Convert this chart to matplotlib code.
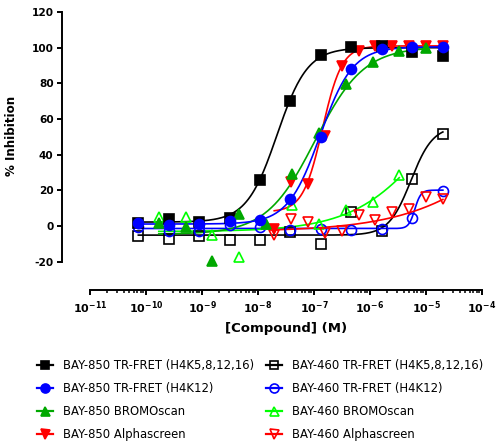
import numpy as np
import matplotlib
matplotlib.use("Agg")
import matplotlib.pyplot as plt
from matplotlib.lines import Line2D

plt.rcParams["font.family"] = ["DejaVu Sans"]
plt.rcParams["mathtext.fontset"] = "dejavusans"

# ---- data (% inhibition vs molar concentration) ----
conc_fret = [7.3e-11, 2.54e-10, 8.9e-10, 3.1e-9, 1.09e-8, 3.8e-8, 1.33e-7, 4.66e-7, 1.63e-6, 5.7e-6, 2.0e-5]
bay850_fret = [2.0, 4.3, 2.4, 4.5, 25.7, 70.4, 95.9, 100.6, 101.0, 97.4, 95.5]
bay460_fret = [-5.6, -6.9, -5.6, -7.8, -7.8, -3.2, -9.7, 7.7, -2.8, 26.6, 51.4]
bay850_k12 = [1.8, 0.6, 1.1, 2.8, 3.7, 15.5, 50.1, 88.1, 99.3, 100.6, 100.6]
bay460_k12 = [-0.4, -2.6, -2.6, 0.5, -0.4, -2.2, -1.3, -2.2, -1.7, 4.6, 19.9]

conc_bromo = [1.69e-10, 5.08e-10, 1.52e-9, 4.57e-9, 1.37e-8, 4.12e-8, 1.23e-7, 3.7e-7, 1.11e-6, 3.33e-6, 1.0e-5]
bay850_bromo = [1.8, -0.4, -19.5, 7.1, 1.5, 29.0, 52.0, 79.5, 92.2, 98.0, 100.0]
bay460_bromo = [5.2, 5.2, -5.0, -17.1, 1.5, 11.7, 1.5, 8.9, 13.6, 28.5]

conc_alpha = [1.95e-8, 3.91e-8, 7.81e-8, 1.56e-7, 3.13e-7, 6.25e-7, 1.25e-6, 2.5e-6, 5.0e-6, 1.0e-5, 2.0e-5]
bay850_alpha = [-1.3, 24.5, 23.8, 50.8, 90.0, 98.3, 101.0, 101.0, 101.0, 101.0, 101.0]
bay460_alpha = [-5.0, 4.3, 2.4, -3.7, -2.6, 6.1, 3.4, 8.0, 9.9, 16.4, 15.1]

# 4PL fit parameters estimated from the drawn curves: bottom, top, logEC50, hill
fit_850_fret = [2.3, 100.0, -7.66, 1.6]
fit_460_fret = [-5.0, 56.0, -5.27, 2.2]
fit_850_k12 = [1.2, 100.5, -6.89, 1.5]
fit_460_k12 = [-1.3, 20.2, -5.2, 8.0]
fit_850_bromo = [-4.5, 100.5, -6.98, 1.0]
fit_460_bromo = [-3.0, 100.0, -4.86, 0.62]
fit_850_alpha = [8.0, 101.0, -6.85, 2.5]
fit_460_alpha = [-3.0, 100.0, -3.2, 0.45]

labels = ["BAY-850 TR-FRET (H4K5,8,12,16)", "BAY-850 TR-FRET (H4K12)",
          "BAY-850 BROMOscan", "BAY-850 Alphascreen",
          "BAY-460 TR-FRET (H4K5,8,12,16)", "BAY-460 TR-FRET (H4K12)",
          "BAY-460 BROMOscan", "BAY-460 Alphascreen"]
yticks = [-20, 0, 20, 40, 60, 80, 100, 120]
xdecades = [-11, -10, -9, -8, -7, -6, -5, -4]

BLACK, BLUE, DGREEN, LGREEN, RED = "#000000", "#0000ff", "#00a800", "#00ff00", "#ff0000"


def fourpl(x, p):
    b, t, c, h = p
    return b + (t - b) / (1 + 10 ** (h * (c - np.log10(x))))


fig = plt.figure(figsize=(4.96, 4.42), dpi=100)
ax = fig.add_axes([90 / 496, 152 / 442, 392 / 496, 278 / 442])

# (conc, values, fit, colour, marker, filled, legend slot)
series = [
    (conc_fret, bay460_fret, fit_460_fret, BLACK, "s", False, 4),
    (conc_fret, bay460_k12, fit_460_k12, BLUE, "o", False, 5),
    (conc_bromo[:len(bay460_bromo)], bay460_bromo, fit_460_bromo, LGREEN, "^", False, 6),
    (conc_alpha, bay460_alpha, fit_460_alpha, RED, "v", False, 7),
    (conc_alpha, bay850_alpha, fit_850_alpha, RED, "v", True, 3),
    (conc_fret, bay850_fret, fit_850_fret, BLACK, "s", True, 0),
    (conc_bromo, bay850_bromo, fit_850_bromo, DGREEN, "^", True, 2),
    (conc_fret, bay850_k12, fit_850_k12, BLUE, "o", True, 1),
]
msize = {"s": 6.6, "o": 7.2, "^": 7.2, "v": 7.2}
handles = [None] * 8
for conc, vals, fit, col, mk, filled, li in series:
    xs = np.logspace(np.log10(min(conc)), np.log10(max(conc)), 300)
    ax.plot(xs, fourpl(xs, fit), color=col, lw=1.2, zorder=2)
    fc = col if filled else "none"
    ax.plot(conc, vals, ls="none", marker=mk, ms=msize[mk], mfc=fc, mec=col,
            mew=1.2, zorder=3)
    handles[li] = Line2D([], [], color=col, lw=1.6, marker=mk, ms=msize[mk] * 0.9,
                         mfc=fc, mec=col, mew=1.2)

ax.set_xscale("log")
ax.set_xlim(1e-11, 1e-4)
ax.set_ylim(-35.75, 120)
for s in ["top", "right"]:
    ax.spines[s].set_visible(False)
ax.spines["left"].set_position(("outward", 28 * 0.72))
ax.spines["left"].set_bounds(-20, 120)
for s in ["left", "bottom"]:
    ax.spines[s].set_linewidth(1.4)

ax.set_yticks(yticks)
ax.set_yticklabels([str(v) for v in yticks], fontsize=7.6, fontweight="bold")
ax.tick_params(axis="y", length=3.6, width=1.4, pad=2.5)

ax.set_xticks([10.0 ** d for d in xdecades])
ax.set_xticklabels([r"$\mathbf{10^{%d}}$" % d for d in xdecades], fontsize=8.0)
ax.xaxis.set_minor_locator(matplotlib.ticker.LogLocator(base=10, subs=np.arange(2, 10)))
ax.xaxis.set_minor_formatter(matplotlib.ticker.NullFormatter())
ax.tick_params(axis="x", which="major", length=3.6, width=1.4, pad=3.5)
ax.tick_params(axis="x", which="minor", length=2.2, width=1.1)

ax.set_ylabel("% Inhibition", fontsize=8.6, fontweight="bold")
ax.yaxis.set_label_coords((18 - 90) / 392, 0.555)
ax.set_xlabel("[Compound] (M)", fontsize=9.5, fontweight="bold", labelpad=4)

fig.legend(handles, labels, ncol=2, loc="upper left", bbox_to_anchor=(37 / 496, 0.188),
           frameon=False, fontsize=8.4, handlelength=1.4, handletextpad=0.85,
           columnspacing=1.0, labelspacing=0.85, borderaxespad=0, borderpad=0)

fig.savefig("out.png", dpi=100)
